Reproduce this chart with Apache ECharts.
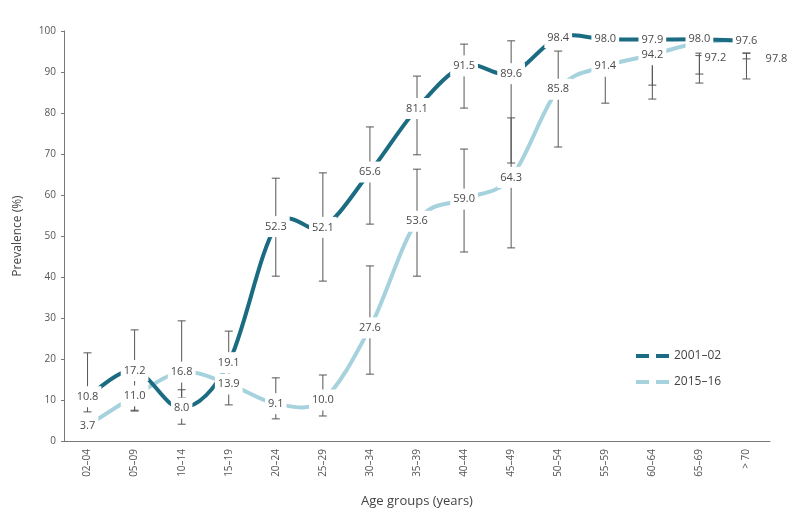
<!DOCTYPE html>
<html>
<head>
<meta charset="utf-8">
<script src="https://cdn.jsdelivr.net/npm/echarts@6/dist/echarts.min.js"></script>
<style>html,body{margin:0;padding:0;background:#fff;}#c{width:800px;height:527px;}</style>
</head>
<body>
<div id="c"></div>
<script>
const categories = ['02–04','05–09','10–14','15–19','20–24','25–29','30–34','35–39','40–44','45–49','50–54','55–59','60–64','65–69','> 70'];
const prev2001 = [10.8,17.2,8.0,19.1,52.3,52.1,65.6,81.1,91.5,89.6,98.4,98.0,97.9,98.0,97.6];
const prev2015 = [3.7,11.0,16.8,13.9,9.1,10.0,27.6,53.6,59.0,64.3,85.8,91.4,94.2,97.2,97.8];
const ciLow2001  = [7.1,7.3,4.1,13.0,40.2,39.0,52.9,69.8,81.2,67.8,96.0,96.5,86.8,89.5,88.3];
const ciHigh2001 = [21.5,27.1,12.5,26.8,64.1,65.4,76.6,89.0,96.8,97.6,99.5,99.3,93.5,94.6,94.6];
const ciLow2015  = [2.5,7.5,10.5,8.8,5.4,6.1,16.3,40.2,46.1,47.1,71.7,82.4,83.4,87.3,93.2];
const ciHigh2015 = [5.0,12.5,29.3,20.0,15.4,16.1,42.7,66.3,71.2,78.8,95.1,93.5,93.0,94.0,94.6];
const seriesNames = ['2001–02','2015–16'];

const FONT = 'Open Sans';
const DARK = '#1b6b82';
const LIGHT = '#a5d2dc';

function ciData(lo, hi){ return categories.map((c,i)=>[i, lo[i], hi[i]]); }

function renderCI(params, api){
  const x = api.value(0);
  const p1 = api.coord([x, api.value(1)]);
  const p2 = api.coord([x, api.value(2)]);
  const hw = 4;
  const st = {stroke:'#555', lineWidth:1, fill:null};
  return {type:'group', children:[
    {type:'line', shape:{x1:p1[0],y1:p1[1],x2:p2[0],y2:p2[1]}, style:st},
    {type:'line', shape:{x1:p1[0]-hw,y1:p1[1],x2:p1[0]+hw,y2:p1[1]}, style:st},
    {type:'line', shape:{x1:p2[0]-hw,y1:p2[1],x2:p2[0]+hw,y2:p2[1]}, style:st}
  ]};
}

// Catmull-Rom style smooth curve, one segment per data item (through api.coord)
function makeCurve(vals, color){
  return function(params, api){
    const i = params.dataIndex;
    if (i >= vals.length - 1) return null;
    const P = k => { k = Math.max(0, Math.min(vals.length-1, k)); return api.coord([k, vals[k]]); };
    const p0 = P(i-1), p1 = P(i), p2 = P(i+1), p3 = P(i+2);
    const t = 1/6;
    const c1 = [p1[0] + (p2[0]-p0[0])*t, p1[1] + (p2[1]-p0[1])*t];
    const c2 = [p2[0] - (p3[0]-p1[0])*t, p2[1] - (p3[1]-p1[1])*t];
    return {type:'bezierCurve', shape:{x1:p1[0],y1:p1[1],x2:p2[0],y2:p2[1],cpx1:c1[0],cpy1:c1[1],cpx2:c2[0],cpy2:c2[1]},
      style:{stroke:color, lineWidth:4, fill:null, lineCap:'butt'}};
  };
}

function makeLabels(vals, offsets){
  return function(params, api){
    const i = params.dataIndex;
    const p = api.coord([i, vals[i]]);
    const o = (offsets && offsets[i]) || [0,0];
    return {type:'text', x:p[0]+o[0], y:p[1]+o[1], z2:10,
      style:{text:vals[i].toFixed(1), fill:'#4a4a4a', font:'11px "' + FONT + '"',
        align:'center', verticalAlign:'middle', backgroundColor:'#fff', padding:[5,3]}};
  };
}

const idx = categories.map((c,i)=>[i]);

const chart = echarts.init(document.getElementById('c'));
chart.setOption({
  animation:false,
  grid:{left:64, right:30, top:31, bottom:86},
  legend:{
    data:seriesNames, orient:'vertical', left:631, top:344,
    itemWidth:33, itemHeight:4, itemGap:12,
    icon:'path://M0,0H13V4H0Z M20,0H33V4H20Z',
    textStyle:{fontFamily:FONT, fontSize:12, color:'#444', lineHeight:14}
  },
  xAxis:{
    type:'category', data:categories, boundaryGap:true,
    axisLine:{lineStyle:{color:'#777'}},
    axisTick:{alignWithLabel:true, length:4, lineStyle:{color:'#777'}},
    axisLabel:{rotate:90, fontFamily:FONT, fontSize:10, color:'#555', margin:8},
    name:'Age groups (years)', nameLocation:'middle', nameGap:54,
    nameTextStyle:{fontFamily:FONT, fontSize:13, color:'#444'}
  },
  yAxis:{
    type:'value', min:0, max:100, interval:10,
    splitLine:{show:false},
    axisLine:{show:true, lineStyle:{color:'#777'}},
    axisTick:{show:true, length:3, lineStyle:{color:'#777'}},
    axisLabel:{fontFamily:FONT, fontSize:10, color:'#555', margin:8},
    name:'Prevalence (%)', nameLocation:'middle', nameGap:40,
    nameTextStyle:{fontFamily:FONT, fontSize:12, color:'#444'}
  },
  series:[
    {type:'custom', name:'ci2001', renderItem:renderCI, data:ciData(ciLow2001, ciHigh2001), z:1, silent:true},
    {type:'custom', name:'ci2015', renderItem:renderCI, data:ciData(ciLow2015, ciHigh2015), z:1, silent:true},
    {type:'custom', name:seriesNames[1], renderItem:makeCurve(prev2015, LIGHT), data:idx, color:LIGHT,
      itemStyle:{color:LIGHT}, z:2, silent:true},
    {type:'custom', name:seriesNames[0], renderItem:makeCurve(prev2001, DARK), data:idx, color:DARK,
      itemStyle:{color:DARK}, z:3, silent:true},
    {type:'custom', name:'lab2001', renderItem:makeLabels(prev2001), data:idx, z:10, silent:true},
    {type:'custom', name:'lab2015', renderItem:makeLabels(prev2015, {13:[16,15], 14:[30,19]}), data:idx, z:10, silent:true}
  ]
});
</script>
</body>
</html>
